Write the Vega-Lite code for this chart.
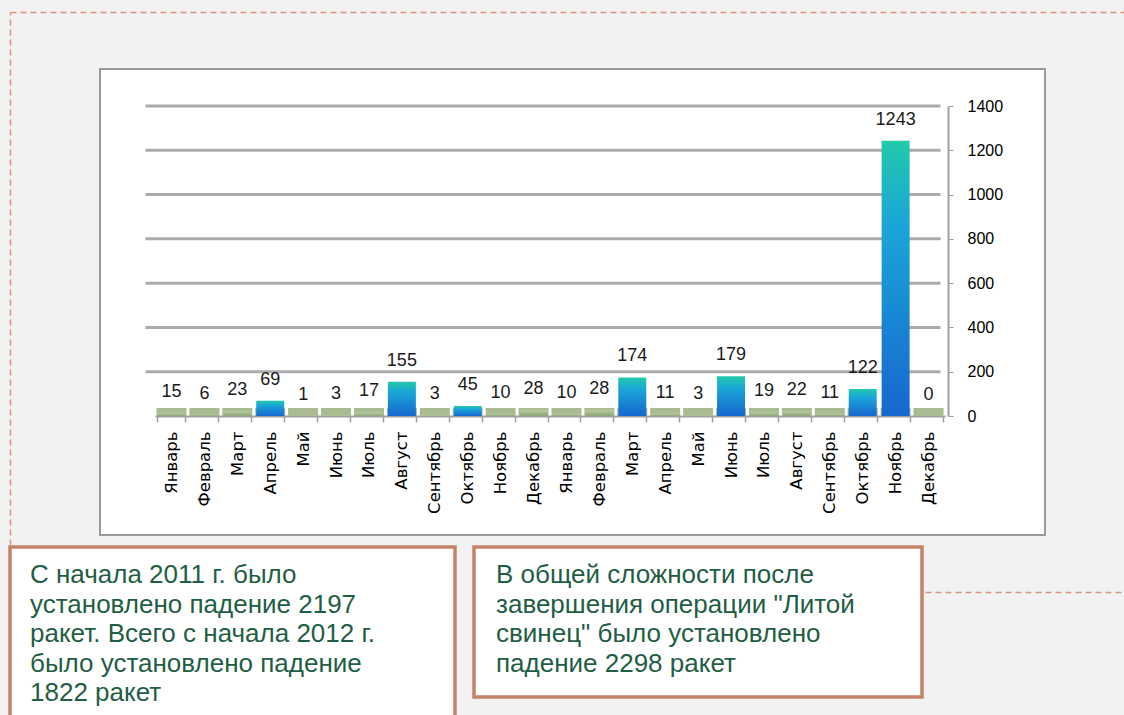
{
  "$schema": "https://vega.github.io/schema/vega-lite/v6.json",
  "background": "#f2f2f2",
  "padding": {"left": 8, "top": 12, "right": 0, "bottom": 0},
  "spacing": 0,
  "config": {"view": {"stroke": null}},
  "vconcat": [
    {
      "spacing": 10,
      "bounds": "flush",
      "hconcat": [
        {
          "width": 80,
          "height": 466,
          "view": {"fill": null, "stroke": null},
          "mark": {"type": "point", "opacity": 0},
          "encoding": {
            "x": {
              "datum": 0,
              "type": "quantitative",
              "scale": {"domain": [0, 1], "range": [0, 1116], "nice": false, "zero": false},
              "axis": {"orient": "top", "offset": 57, "labels": false, "ticks": false, "grid": false, "title": null, "domainColor": "#d8957a", "domainDash": [6, 4], "domainWidth": 1.5}
            },
            "y": {
              "datum": 0,
              "type": "quantitative",
              "scale": {"domain": [0, 1], "range": [533, 0], "nice": false, "zero": false},
              "axis": {"orient": "left", "position": -57, "labels": false, "ticks": false, "grid": false, "title": null, "domainColor": "#d8957a", "domainDash": [6, 4], "domainWidth": 1.5}
            }
          }
        },
        {
          "width": 945,
          "height": 466,
          "view": {"fill": "white", "stroke": "#9a9a9a", "strokeWidth": 2},
          "data": {
            "values": [
              {"period": "Январь 2011", "value": 15},
              {"period": "Февраль 2011", "value": 6},
              {"period": "Март 2011", "value": 23},
              {"period": "Апрель 2011", "value": 69},
              {"period": "Май 2011", "value": 1},
              {"period": "Июнь 2011", "value": 3},
              {"period": "Июль 2011", "value": 17},
              {"period": "Август 2011", "value": 155},
              {"period": "Сентябрь 2011", "value": 3},
              {"period": "Октябрь 2011", "value": 45},
              {"period": "Ноябрь 2011", "value": 10},
              {"period": "Декабрь 2011", "value": 28},
              {"period": "Январь 2012", "value": 10},
              {"period": "Февраль 2012", "value": 28},
              {"period": "Март 2012", "value": 174},
              {"period": "Апрель 2012", "value": 11},
              {"period": "Май 2012", "value": 3},
              {"period": "Июнь 2012", "value": 179},
              {"period": "Июль 2012", "value": 19},
              {"period": "Август 2012", "value": 22},
              {"period": "Сентябрь 2012", "value": 11},
              {"period": "Октябрь 2012", "value": 122},
              {"period": "Ноябрь 2012", "value": 1243},
              {"period": "Декабрь 2012", "value": 0}
            ]
          },
          "layer": [
            {
              "data": {"values": [{"v": 200}, {"v": 400}, {"v": 600}, {"v": 800}, {"v": 1000}, {"v": 1200}, {"v": 1400}]},
              "mark": {"type": "rule", "color": "#ababab", "strokeWidth": 3, "xOffset": -26, "x2Offset": 12},
              "encoding": {
                "x": {"datum": "Январь 2011", "type": "nominal"},
                "x2": {"datum": "Декабрь 2012"},
                "y": {"field": "v", "type": "quantitative"}
              }
            },
            {
              "mark": {"type": "tick", "thickness": 8, "size": 30, "yOffset": -4, "color": "#a9bb92", "opacity": 1},
              "encoding": {
                "x": {"field": "period", "type": "nominal"},
                "y": {"datum": 0, "type": "quantitative"}
              }
            },
            {
              "transform": [{"filter": "datum.value < 40"}],
              "mark": {
                "type": "bar",
                "fill": {"gradient": "linear", "x1": 0, "y1": 0, "x2": 0, "y2": 1,
                  "stops": [{"offset": 0, "color": "#bccca5"}, {"offset": 1, "color": "#8ba674"}]}
              },
              "encoding": {
                "x": {"field": "period", "type": "nominal"},
                "y": {"field": "value", "type": "quantitative"}
              }
            },
            {
              "transform": [{"filter": "datum.value >= 40"}],
              "mark": {
                "type": "bar",
                "fill": {"gradient": "linear", "x1": 0, "y1": 0, "x2": 0, "y2": 1,
                  "stops": [{"offset": 0, "color": "#22c9aa"}, {"offset": 0.3, "color": "#1aa6d8"}, {"offset": 1, "color": "#1767cf"}]}
              },
              "encoding": {
                "x": {"field": "period", "type": "nominal"},
                "y": {"field": "value", "type": "quantitative"}
              }
            },
            {
              "mark": {"type": "text", "dy": -21, "baseline": "middle", "fontSize": 18, "font": "Liberation Sans", "color": "#1a1a1a"},
              "encoding": {
                "x": {
                  "field": "period",
                  "type": "nominal",
                  "sort": null,
                  "scale": {
                    "domain": ["Январь 2011", "Февраль 2011", "Март 2011", "Апрель 2011", "Май 2011", "Июнь 2011", "Июль 2011", "Август 2011", "Сентябрь 2011", "Октябрь 2011", "Ноябрь 2011", "Декабрь 2011", "Январь 2012", "Февраль 2012", "Март 2012", "Апрель 2012", "Май 2012", "Июнь 2012", "Июль 2012", "Август 2012", "Сентябрь 2012", "Октябрь 2012", "Ноябрь 2012", "Декабрь 2012"],
                    "range": [55, 845],
                    "paddingInner": 0.15,
                    "paddingOuter": 0.075
                  },
                  "axis": {
                    "orient": "bottom",
                    "offset": -119,
                    "title": null,
                    "tickBand": "extent",
                    "labelExpr": "isString(datum.value) ? slice(datum.value, 0, indexof(datum.value + ' ', ' ')) : ''",
                    "labelAngle": 270,
                    "labelAlign": "right",
                    "labelBaseline": "middle",
                    "labelPadding": 9,
                    "labelFont": "DejaVu Sans",
                    "labelFontSize": 16.5,
                    "labelColor": "#000000",
                    "labelOverlap": false,
                    "labelLimit": 0,
                    "domainColor": "#a0a0a0",
                    "domainWidth": 2,
                    "tickColor": "#a0a0a0",
                    "tickSize": 6,
                    "tickWidth": 1.5,
                    "grid": false
                  }
                },
                "y": {
                  "field": "value",
                  "type": "quantitative",
                  "scale": {"domain": [0, 1400], "range": [347, 37], "nice": false},
                  "axis": {
                    "orient": "right",
                    "offset": -97,
                    "title": null,
                    "values": [0, 200, 400, 600, 800, 1000, 1200, 1400],
                    "format": "d",
                    "grid": false,
                    "labelFont": "Liberation Sans",
                    "labelFontSize": 16,
                    "labelColor": "#000000",
                    "labelPadding": 14,
                    "tickColor": "#a0a0a0",
                    "tickSize": 5,
                    "domainColor": "#a0a0a0",
                    "domainWidth": 2
                  }
                },
                "text": {"field": "value", "type": "quantitative", "format": "d"}
              }
            }
          ]
        }
      ]
    },
    {
      "spacing": 15,
      "hconcat": [
        {
          "width": 445,
          "height": 200,
          "view": {"fill": "white", "stroke": "#c4836a", "strokeWidth": 3.5},
          "mark": {"type": "point", "opacity": 0},
          "encoding": {},
          "title": {
            "text": ["С начала 2011 г. было", "установлено падение 2197", "ракет. Всего с начала 2012 г.", "было установлено падение", "1822 ракет"],
            "anchor": "start",
            "frame": "group",
            "orient": "top",
            "baseline": "top",
            "offset": -159,
            "dx": 20,
            "font": "Liberation Sans",
            "fontSize": 26,
            "fontWeight": "normal",
            "color": "#1f5e44",
            "lineHeight": 29.5
          }
        },
        {
          "spacing": 1,
          "hconcat": [
            {
              "width": 448,
              "height": 150,
              "view": {"fill": "white", "stroke": "#c4836a", "strokeWidth": 3.5},
              "mark": {"type": "point", "opacity": 0},
              "encoding": {},
              "title": {
                "text": ["В общей сложности после", "завершения операции \"Литой", "свинец\" было установлено", "падение 2298 ракет"],
                "anchor": "start",
                "frame": "group",
                "orient": "top",
                "baseline": "top",
                "offset": -129.5,
                "dx": 22,
                "font": "Liberation Sans",
                "fontSize": 26,
                "fontWeight": "normal",
                "color": "#1f5e44",
                "lineHeight": 29.5
              }
            },
            {
              "width": 210,
              "height": 150,
              "view": {"fill": null, "stroke": null},
              "mark": {"type": "point", "opacity": 0},
              "encoding": {
                "x": {
                  "datum": 0,
                  "type": "quantitative",
                  "axis": {
                    "orient": "top",
                    "offset": -45,
                    "labels": false,
                    "ticks": false,
                    "grid": false,
                    "title": null,
                    "domain": true,
                    "domainColor": "#d8957a",
                    "domainDash": [6, 4],
                    "domainWidth": 1.5
                  }
                }
              }
            }
          ]
        }
      ]
    }
  ]
}
